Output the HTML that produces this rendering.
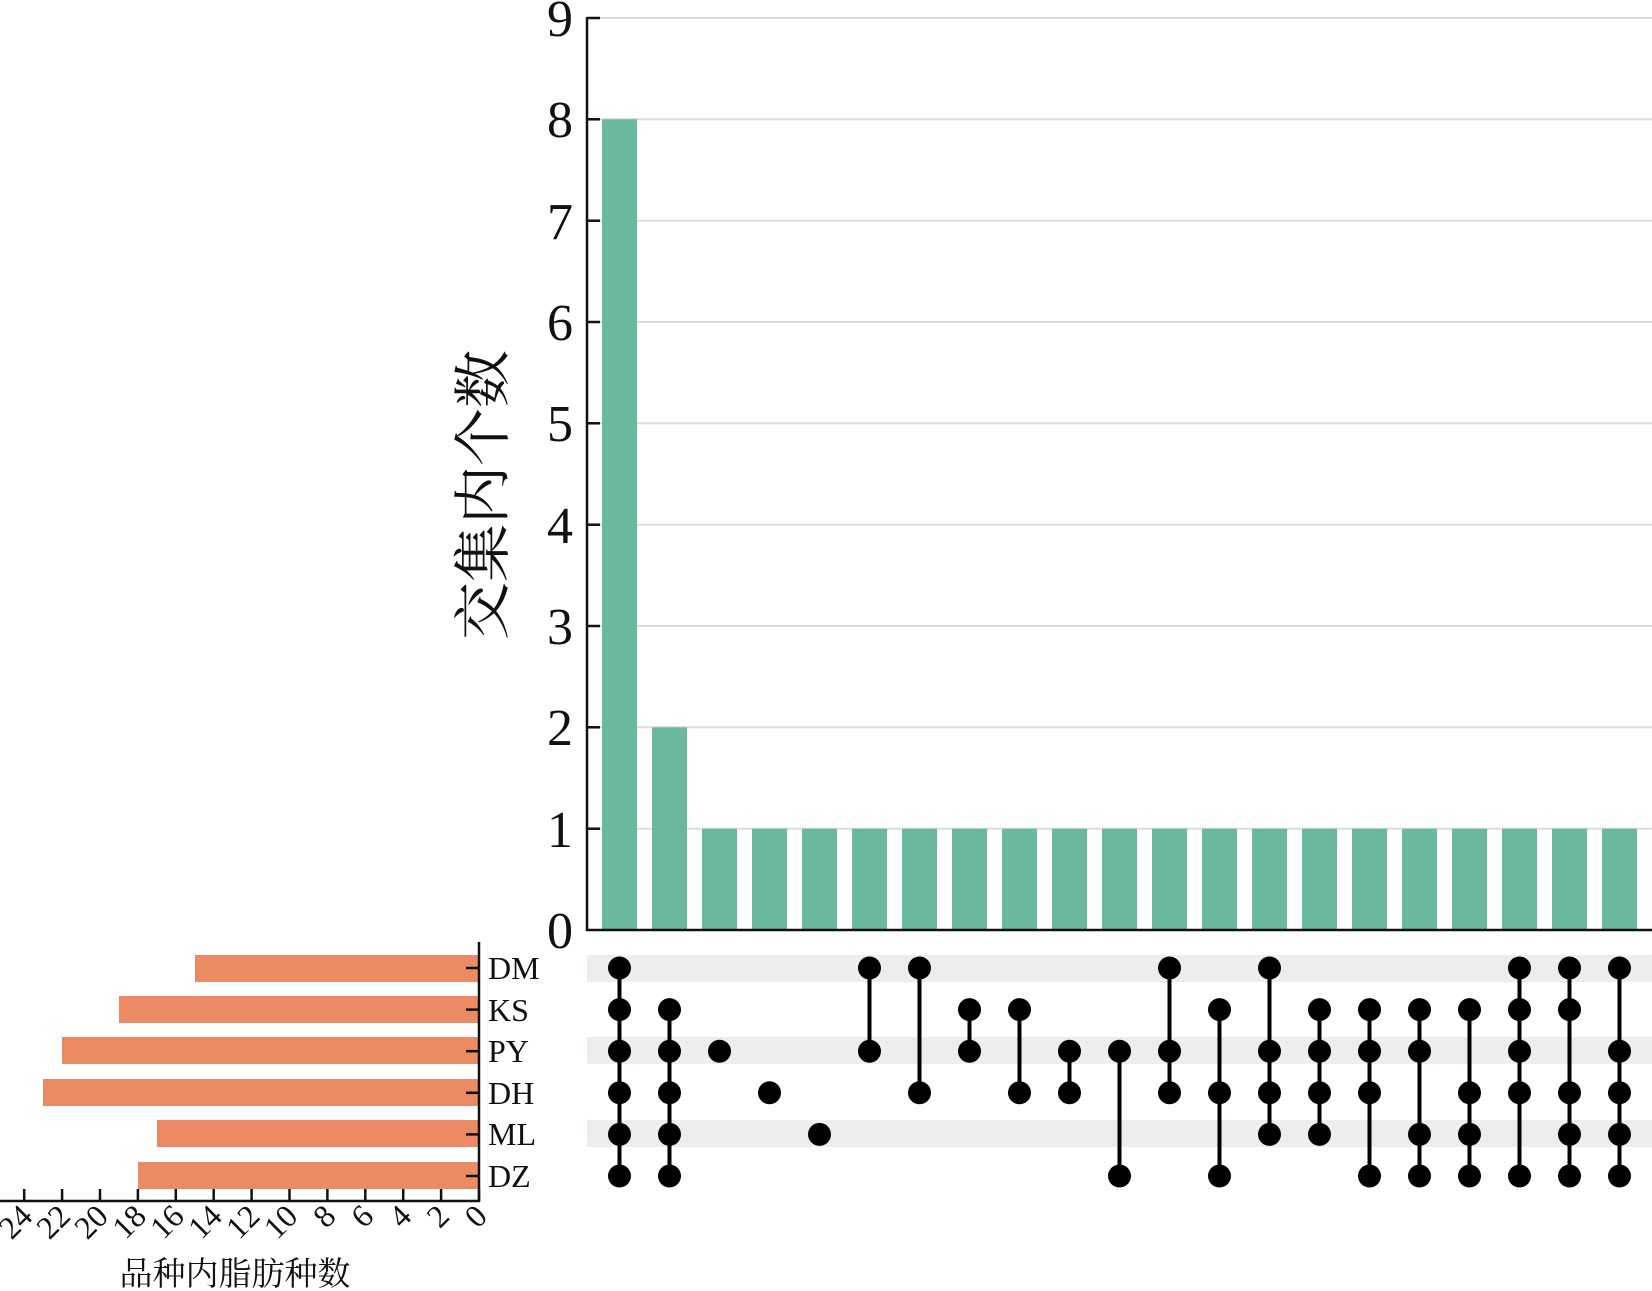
<!DOCTYPE html>
<html><head><meta charset="utf-8"><style>
html,body{margin:0;padding:0;background:#fff;}
svg{display:block;}
</style></head><body>
<svg width="1652" height="1291" viewBox="0 0 1652 1291" xmlns="http://www.w3.org/2000/svg">
<g id="grid" stroke="#dcdcdc" stroke-width="2">
<line x1="587" x2="1652" y1="18" y2="18"/><line x1="587" x2="1652" y1="119.3" y2="119.3"/>
<line x1="587" x2="1652" y1="220.7" y2="220.7"/><line x1="587" x2="1652" y1="322" y2="322"/>
<line x1="587" x2="1652" y1="423.3" y2="423.3"/><line x1="587" x2="1652" y1="524.7" y2="524.7"/>
<line x1="587" x2="1652" y1="626" y2="626"/><line x1="587" x2="1652" y1="727.3" y2="727.3"/>
<line x1="587" x2="1652" y1="828.7" y2="828.7"/>
</g>
<g fill="#6bb99c">
<rect x="602" y="119.3" width="35" height="810.7"/>
<rect x="652" y="727.3" width="35" height="202.7"/>
<rect x="702" y="828.7" width="35" height="101.3"/><rect x="752" y="828.7" width="35" height="101.3"/>
<rect x="802" y="828.7" width="35" height="101.3"/><rect x="852" y="828.7" width="35" height="101.3"/>
<rect x="902" y="828.7" width="35" height="101.3"/><rect x="952" y="828.7" width="35" height="101.3"/>
<rect x="1002" y="828.7" width="35" height="101.3"/><rect x="1052" y="828.7" width="35" height="101.3"/>
<rect x="1102" y="828.7" width="35" height="101.3"/><rect x="1152" y="828.7" width="35" height="101.3"/>
<rect x="1202" y="828.7" width="35" height="101.3"/><rect x="1252" y="828.7" width="35" height="101.3"/>
<rect x="1302" y="828.7" width="35" height="101.3"/><rect x="1352" y="828.7" width="35" height="101.3"/>
<rect x="1402" y="828.7" width="35" height="101.3"/><rect x="1452" y="828.7" width="35" height="101.3"/>
<rect x="1502" y="828.7" width="35" height="101.3"/><rect x="1552" y="828.7" width="35" height="101.3"/>
<rect x="1602" y="828.7" width="35" height="101.3"/>
</g>
<g stroke="#111" stroke-width="2.5">
<line x1="587" y1="17" x2="587" y2="931"/>
<line x1="586" y1="930" x2="1652" y2="930"/>
</g>
<g stroke="#111" stroke-width="2.5">
<line x1="587" x2="600" y1="18" y2="18"/><line x1="587" x2="600" y1="119.3" y2="119.3"/>
<line x1="587" x2="600" y1="220.7" y2="220.7"/><line x1="587" x2="600" y1="322" y2="322"/>
<line x1="587" x2="600" y1="423.3" y2="423.3"/><line x1="587" x2="600" y1="524.7" y2="524.7"/>
<line x1="587" x2="600" y1="626" y2="626"/><line x1="587" x2="600" y1="727.3" y2="727.3"/>
<line x1="587" x2="600" y1="828.7" y2="828.7"/>
</g>
<g font-family="Liberation Serif, serif" font-size="52" fill="#111" text-anchor="end">
<text x="573" y="36">9</text><text x="573" y="137">8</text><text x="573" y="239">7</text>
<text x="573" y="340">6</text><text x="573" y="441">5</text><text x="573" y="543">4</text>
<text x="573" y="644">3</text><text x="573" y="745">2</text><text x="573" y="847">1</text>
<text x="573" y="948">0</text>
</g>
<text transform="translate(503,495) rotate(-90)" text-anchor="middle" font-family="Noto Serif CJK SC, serif" font-size="58" fill="#111">交集内个数</text>
<g fill="#eeedeb">
<rect x="587" y="955" width="1065" height="27"/>
<rect x="587" y="1037" width="1065" height="27"/>
<rect x="587" y="1120" width="1065" height="27"/>
</g>
<g fill="#ec8b63">
<rect x="195" y="955" width="284" height="27"/>
<rect x="119" y="996" width="360" height="27"/>
<rect x="62" y="1037" width="417" height="27"/>
<rect x="43" y="1079" width="436" height="27"/>
<rect x="157" y="1120" width="322" height="27"/>
<rect x="138" y="1162" width="341" height="27"/>
</g>
<g stroke="#111" stroke-width="2.5">
<line x1="479" y1="942" x2="479" y2="1202"/>
<line x1="0" y1="1201" x2="480" y2="1201"/>
<line x1="466" x2="479" y1="968" y2="968"/><line x1="466" x2="479" y1="1009.6" y2="1009.6"/>
<line x1="466" x2="479" y1="1051.2" y2="1051.2"/><line x1="466" x2="479" y1="1092.8" y2="1092.8"/>
<line x1="466" x2="479" y1="1134.4" y2="1134.4"/><line x1="466" x2="479" y1="1176" y2="1176"/>
</g>
<g stroke="#111" stroke-width="2.5" id="bt"></g>
<g font-family="Liberation Serif, serif" font-size="32" fill="#111">
<text x="488" y="979">DM</text><text x="488" y="1021">KS</text><text x="488" y="1062">PY</text>
<text x="488" y="1104">DH</text><text x="488" y="1145">ML</text><text x="488" y="1187">DZ</text>
</g>
<g id="bl" font-family="Liberation Serif, serif" font-size="32" fill="#111" text-anchor="end"></g>
<text x="235" y="1285" text-anchor="middle" font-family="Noto Serif CJK SC, serif" font-size="33" fill="#111">品种内脂肪种数</text>
<g id="dots" fill="#000" stroke="#000" stroke-width="4"></g>
<script>
var ns="http://www.w3.org/2000/svg";
var bt=document.getElementById('bt'),bl=document.getElementById('bl');
for(var i=0;i<=12;i++){var x=479-i*37.9;
var l=document.createElementNS(ns,'line');l.setAttribute('x1',x);l.setAttribute('x2',x);l.setAttribute('y1',1189);l.setAttribute('y2',1201);bt.appendChild(l);
var t=document.createElementNS(ns,'text');t.setAttribute('transform','translate('+(x+10)+',1218) rotate(-45)');t.textContent=(i*2);bl.appendChild(t);}
var rows={DM:968,KS:1009.6,PY:1051.2,DH:1092.8,ML:1134.4,DZ:1176};
var cols=[["DM","KS","PY","DH","ML","DZ"],["KS","PY","DH","ML","DZ"],["PY"],["DH"],["ML"],["DM","PY"],["DM","DH"],["KS","PY"],["KS","DH"],["PY","DH"],["PY","DZ"],["DM","PY","DH"],["KS","DH","DZ"],["DM","PY","DH","ML"],["KS","PY","DH","ML"],["KS","PY","DH","DZ"],["KS","PY","ML","DZ"],["KS","DH","ML","DZ"],["DM","KS","PY","DH","DZ"],["DM","KS","DH","ML","DZ"],["DM","PY","DH","ML","DZ"]];
var g=document.getElementById('dots');
cols.forEach(function(c,i){var x=619.5+i*50;var ys=c.map(function(r){return rows[r];});
var mn=Math.min.apply(null,ys),mx=Math.max.apply(null,ys);
if(mx>mn){var l=document.createElementNS(ns,'line');l.setAttribute('x1',x);l.setAttribute('x2',x);l.setAttribute('y1',mn);l.setAttribute('y2',mx);g.appendChild(l);}
ys.forEach(function(y){var ci=document.createElementNS(ns,'circle');ci.setAttribute('cx',x);ci.setAttribute('cy',y);ci.setAttribute('r',11.5);ci.setAttribute('stroke','none');g.appendChild(ci);});});
</script>
</svg>
</body></html>
